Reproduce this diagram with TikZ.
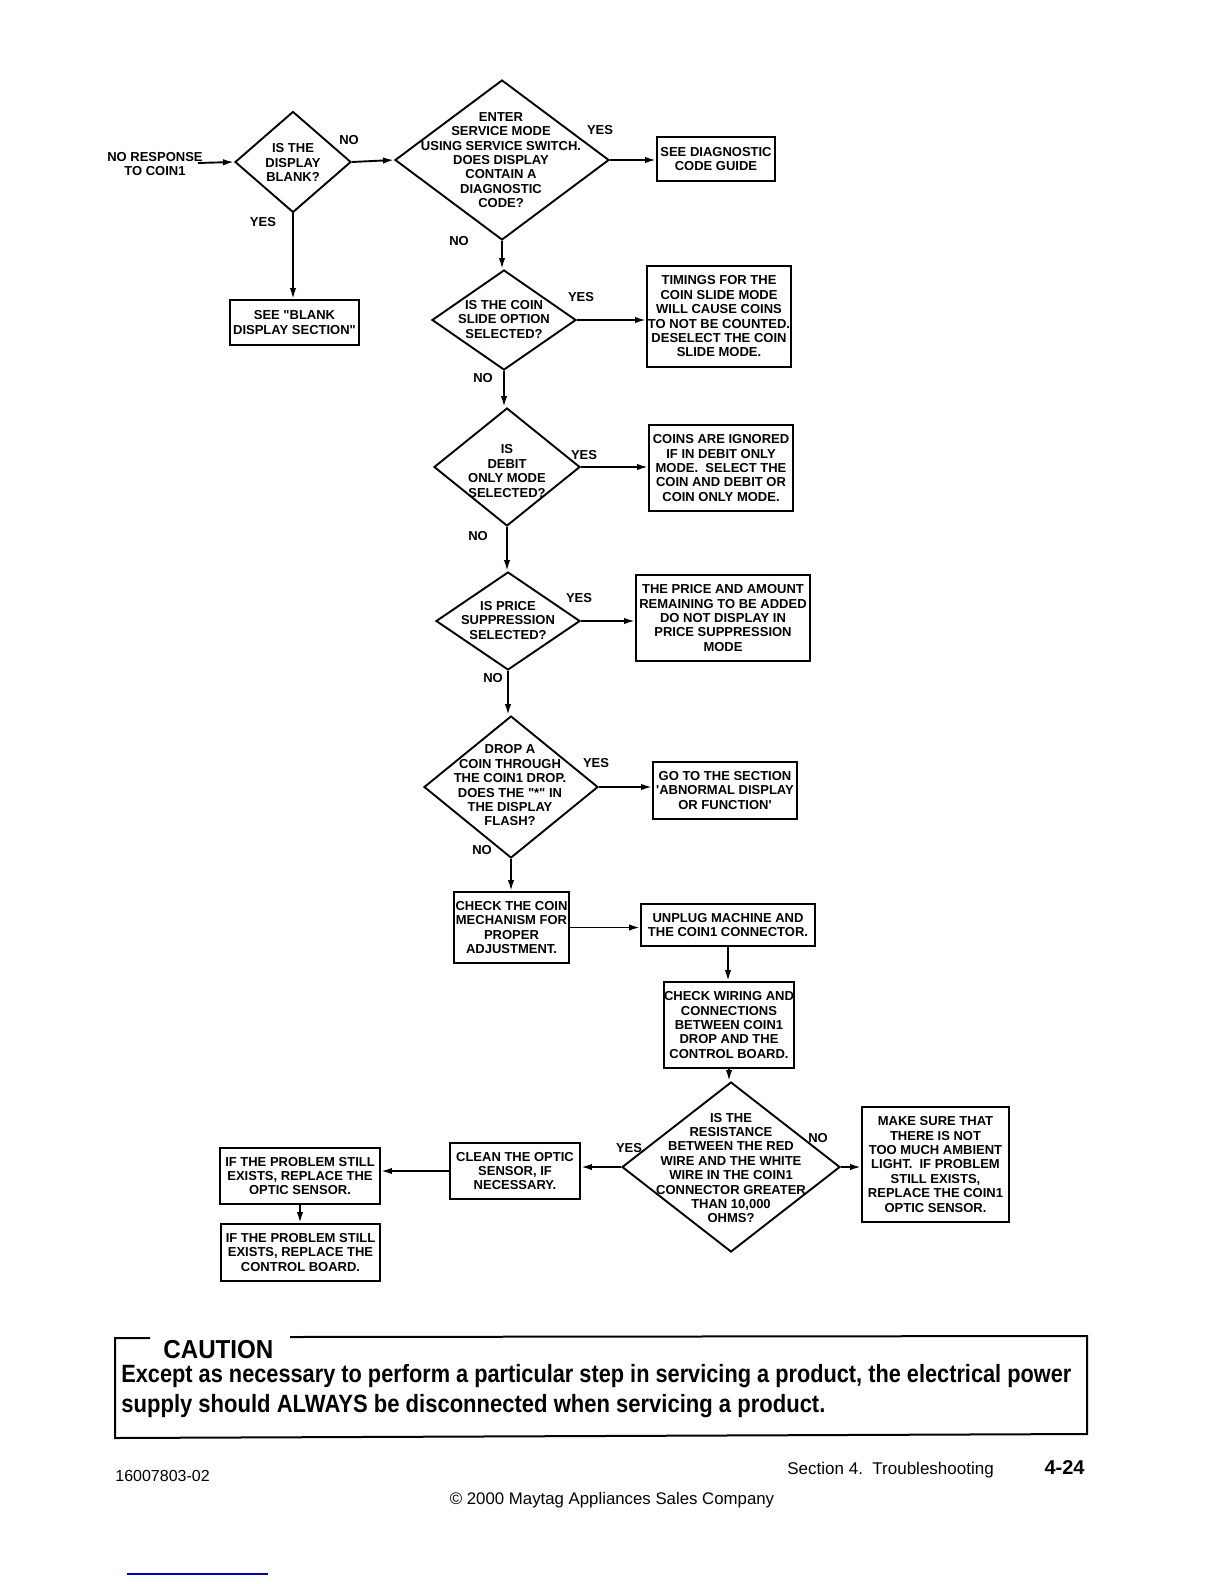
\documentclass[tikz,border=0pt]{standalone}
\usepackage{fontspec}
\setmainfont{Liberation Sans}[Ligatures=TeXOff]
\usepackage{graphicx}
\usetikzlibrary{shapes.geometric,arrows.meta}
\tikzset{
  every picture/.style={x=0.5pt,y=-0.5pt},
  ln/.style={line width=0.95pt},
  dia/.style 2 args={draw, ln, diamond, inner sep=0pt, minimum width=#1, minimum height=#2},
  bx/.style 2 args={draw, ln, rectangle, inner sep=0pt, minimum width=#1, minimum height=#2, align=center,
    font=\bfseries\fontsize{6.5}{7.2}\selectfont},
  txt/.style={align=center, inner sep=0pt, font=\bfseries\fontsize{6.5}{7.2}\selectfont},
  lbl/.style={inner sep=0pt, font=\bfseries\fontsize{6.5}{7.2}\selectfont},
  arr/.style={ln, -{Latex[length=5.5pt,width=3.2pt]}},
}
\begin{document}
\begin{tikzpicture}
\useasboundingbox (0,0) rectangle (1224,1584);
\fill[white] (0,0) rectangle (1224,1584);

% start
\node[txt] (start) at (155,164) {NO RESPONSE\\TO COIN1};
\coordinate (startc) at (198,163);

% diamonds
\node[dia={58pt}{50.5pt}] (d1) at (293,162) {};
\node[txt] at (293,162.5) {IS THE\\DISPLAY\\BLANK?};
\node[dia={107pt}{80pt}] (d2) at (502,160) {};
\node[txt] at (501,160) {ENTER\\SERVICE MODE\\USING SERVICE SWITCH.\\DOES DISPLAY\\CONTAIN A\\DIAGNOSTIC\\CODE?};
\node[dia={72pt}{50pt}] (d3) at (504,320) {};
\node[txt] at (504,319.5) {IS THE COIN\\SLIDE OPTION\\SELECTED?};
\node[dia={73pt}{59pt}] (d4) at (507,467) {};
\node[txt] at (507,471) {IS\\DEBIT\\ONLY MODE\\SELECTED?};
\node[dia={72pt}{49pt}] (d5) at (508,621) {};
\node[txt] at (508,620.5) {IS PRICE\\SUPPRESSION\\SELECTED?};
\node[dia={87pt}{71pt}] (d6) at (511,787) {};
\node[txt] at (510,785.5) {DROP A\\COIN THROUGH\\THE COIN1 DROP.\\DOES THE "*" IN\\THE DISPLAY\\FLASH?};
\node[dia={109pt}{85pt}] (d7) at (731,1167) {};
\node[txt] at (731,1168) {IS THE\\RESISTANCE\\BETWEEN THE RED\\WIRE AND THE WHITE\\WIRE IN THE COIN1\\CONNECTOR GREATER\\THAN 10,000\\OHMS?};

% boxes
\node[bx={59pt}{22pt}] (bdiag) at (716,159) {SEE DIAGNOSTIC\\CODE GUIDE};
\node[bx={64.5pt}{22.5pt}] (bblank) at (294.5,322.5) {SEE "BLANK\\DISPLAY SECTION"};
\node[bx={72pt}{50.5pt}] (btim) at (719,316.5) {TIMINGS FOR THE\\COIN SLIDE MODE\\WILL CAUSE COINS\\TO NOT BE COUNTED.\\DESELECT THE COIN\\SLIDE MODE.};
\node[bx={72pt}{43pt}] (bcoins) at (721,468) {COINS ARE IGNORED\\IF IN DEBIT ONLY\\MODE.\ \ SELECT THE\\COIN AND DEBIT OR\\COIN ONLY MODE.};
\node[bx={87pt}{43pt}] (bprice) at (723,618) {THE PRICE AND AMOUNT\\REMAINING TO BE ADDED\\DO NOT DISPLAY IN\\PRICE SUPPRESSION\\MODE};
\node[bx={72pt}{28.5pt}] (bgoto) at (725,790.5) {GO TO THE SECTION\\'ABNORMAL DISPLAY\\OR FUNCTION'};
\node[bx={57.5pt}{35.5pt}] (bcheck) at (511.5,927.5) {CHECK THE COIN\\MECHANISM FOR\\PROPER\\ADJUSTMENT.};
\node[bx={87pt}{21pt}] (bunplug) at (728,925) {UNPLUG MACHINE AND\\THE COIN1 CONNECTOR.};
\node[bx={65pt}{43pt}] (bwiring) at (729,1025) {CHECK WIRING AND\\CONNECTIONS\\BETWEEN COIN1\\DROP AND THE\\CONTROL BOARD.};
\node[bx={73.5pt}{57.5pt}] (bmake) at (935.5,1164.5) {MAKE SURE THAT\\THERE IS NOT\\TOO MUCH AMBIENT\\LIGHT.\ \ IF PROBLEM\\STILL EXISTS,\\REPLACE THE COIN1\\OPTIC SENSOR.};
\node[bx={65pt}{28pt}] (bclean) at (515,1171) {CLEAN THE OPTIC\\SENSOR, IF\\NECESSARY.};
\node[bx={80pt}{28pt}] (bopt) at (300,1176) {IF THE PROBLEM STILL\\EXISTS, REPLACE THE\\OPTIC SENSOR.};
\node[bx={79.5pt}{28.5pt}] (bctrl) at (300.5,1252.5) {IF THE PROBLEM STILL\\EXISTS, REPLACE THE\\CONTROL BOARD.};

% labels
\node[lbl] at (349,140) {NO};
\node[lbl] at (263,222) {YES};
\node[lbl] at (600,130) {YES};
\node[lbl] at (459,241) {NO};
\node[lbl] at (581,297) {YES};
\node[lbl] at (483,378) {NO};
\node[lbl] at (584,455) {YES};
\node[lbl] at (478,536) {NO};
\node[lbl] at (579,598) {YES};
\node[lbl] at (493,678) {NO};
\node[lbl] at (596,763) {YES};
\node[lbl] at (482,850) {NO};
\node[lbl] at (818,1138) {NO};
\node[lbl] at (629,1148) {YES};

% connectors
\draw[arr] (startc) -- (d1.west);
\draw[arr] (d1.east) -- (d2.west);
\draw[arr] (d2.east) -- (d2.east -| bdiag.west);
\draw[arr] (d1.south) -- (d1.south |- bblank.north);
\draw[arr] (d2.south) -- (d2.south |- d3.north);
\draw[arr] (d3.east) -- (d3.east -| btim.west);
\draw[arr] (d3.south) -- (d3.south |- d4.north);
\draw[arr] (d4.east) -- (d4.east -| bcoins.west);
\draw[arr] (d4.south) -- (d4.south |- d5.north);
\draw[arr] (d5.east) -- (d5.east -| bprice.west);
\draw[arr] (d5.south) -- (d5.south |- d6.north);
\draw[arr] (d6.east) -- (d6.east -| bgoto.west);
\draw[arr] (d6.south) -- (d6.south |- bcheck.north);
\draw[arr] (bcheck.east) -- (bcheck.east -| bunplug.west);
\draw[arr] (bunplug.south) -- (bunplug.south |- bwiring.north);
\draw[arr] (bwiring.south) -- (bwiring.south |- d7.north);
\draw[arr] (d7.east) -- (d7.east -| bmake.west);
\draw[arr] (d7.west) -- (d7.west -| bclean.east);
\draw[arr] (bclean.west) -- (bclean.west -| bopt.east);
\draw[arr] (bopt.south) -- (bopt.south |- bctrl.north);

% caution box
\draw[line width=1pt] (150,1338) -- (115,1338) -- (115,1438) -- (1087,1434) -- (1087,1336) -- (290,1337);
\node[inner sep=0pt, anchor=base west, font=\bfseries\fontsize{13}{13}\selectfont] (caut) at (163,1358) {\resizebox{55pt}{\height}{CAUTION}};
\node[inner sep=0pt, anchor=base west, font=\bfseries\fontsize{12.5}{13}\selectfont] (cl1) at (121,1382)
  {\resizebox{475pt}{\height}{Except as necessary to perform a particular step in servicing a product, the electrical power}};
\node[inner sep=0pt, anchor=base west, font=\bfseries\fontsize{12.5}{13}\selectfont] (cl2) at (121,1412)
  {\resizebox{352pt}{\height}{supply should ALWAYS be disconnected when servicing a product.}};

% footer
\node[inner sep=0pt, anchor=base west, font=\fontsize{8}{9}\selectfont] (f1) at (115,1481) {16007803-02};
\node[inner sep=0pt, anchor=base west, font=\fontsize{8.5}{9}\selectfont] (f2) at (787,1474) {Section 4.\ \ Troubleshooting};
\node[inner sep=0pt, anchor=base east, font=\bfseries\fontsize{10}{11}\selectfont] (f3) at (1085,1474) {4-24};
\node[inner sep=0pt, anchor=base, font=\fontsize{8.4}{9}\selectfont] (f4) at (612,1504) {© 2000 Maytag Appliances Sales Company};

\draw[blue!70!black, line width=1pt] (127,1574) -- (268,1574);
\end{tikzpicture}
\end{document}
